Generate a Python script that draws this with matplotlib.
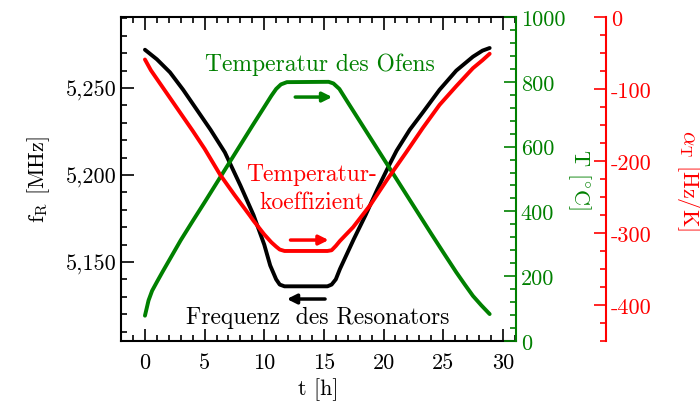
import matplotlib
matplotlib.use("Agg")
import matplotlib.pyplot as plt
from matplotlib.ticker import MultipleLocator, FuncFormatter

# ---------------------------------------------------------------------------
# Data
# ---------------------------------------------------------------------------
t_freq = [0, 1, 2.1, 3.2, 4.3, 5.5, 6.7, 8, 9.1, 10, 10.5, 11, 11.3, 11.7,
          15.3, 15.65, 16, 16.35, 17.5, 18.5, 19.5, 20.5, 21.1, 22.2, 23.3,
          24.7, 26.1, 27.5, 28.3, 28.9]
freq = [5272, 5266.5, 5259, 5249, 5238, 5226, 5213, 5194, 5177, 5160, 5148,
        5140, 5137, 5136, 5136, 5137, 5140, 5146, 5163, 5177, 5192, 5206,
        5214, 5226, 5236, 5249, 5260, 5268, 5271.5, 5273]

t_temp = [0, 0.3, 0.6, 1, 1.5, 2, 3, 4, 5, 6, 7, 8, 9, 10, 10.6, 11, 11.4,
          11.9, 15.4, 15.8, 16.3, 17, 18, 19, 20, 21, 22, 23, 24, 25, 26.1,
          26.8, 27.5, 28.2, 28.9]
temp = [78, 125, 155, 182, 215, 247, 311, 370, 428, 487, 546, 605, 664, 722,
        757, 778, 792, 799, 800, 795, 778, 737, 679, 621, 563, 505, 447, 389,
        331, 274, 212, 175, 139, 110, 83]

t_coef = [0, 0.5, 1, 2, 3, 4, 5, 6.3, 7.5, 8.8, 9.1, 10, 10.6, 11, 11.3,
          11.7, 15.3, 15.65, 16, 16.35, 17.45, 18.9, 20.3, 21.9, 23.3, 24.7,
          26.1, 27.5, 28.3, 28.9]
coef = [-59, -74, -86, -110, -134, -158, -183, -219, -247, -276, -283, -302,
        -313, -319, -323, -325, -325, -324, -318, -311, -292, -261, -226,
        -188, -154, -122, -96, -71, -60, -51]

GREEN = "#008000"
RED = "#ff0000"

plt.rcParams["font.family"] = "serif"
plt.rcParams["font.serif"] = ["cmr10", "DejaVu Serif"]
plt.rcParams["mathtext.fontset"] = "cm"
plt.rcParams["axes.formatter.use_mathtext"] = True
FS = 16
FS_TXT = 17

fig = plt.figure(figsize=(7, 4.1), dpi=100)
ax = fig.add_axes([0.173, 0.166, 0.564, 0.790])
ax2 = ax.twinx()
ax3 = ax.twinx()

# ---------------------------------------------------------------------------
# Curves
# ---------------------------------------------------------------------------
kw = dict(lw=2.8, solid_capstyle="round", solid_joinstyle="round")
ax.plot(t_freq, freq, color="black", **kw)
ax2.plot(t_temp, temp, color=GREEN, **kw)
ax3.plot(t_coef, coef, color=RED, **kw)

# ---------------------------------------------------------------------------
# Axes
# ---------------------------------------------------------------------------
ax.set_xlim(-2, 31.1)
ax.set_ylim(5104.6, 5290.8)
ax2.set_ylim(0, 1000)
ax3.set_ylim(-450, 0)

ax.xaxis.set_major_locator(MultipleLocator(5))
ax.xaxis.set_minor_locator(MultipleLocator(1))
ax.yaxis.set_major_locator(MultipleLocator(50))
ax.yaxis.set_minor_locator(MultipleLocator(10))
ax.yaxis.set_major_formatter(FuncFormatter(lambda v, p: f"{v:,.0f}"))
ax.xaxis.set_major_formatter(FuncFormatter(lambda v, p: f"{v:.0f}"))
ax2.yaxis.set_major_locator(MultipleLocator(200))
ax2.yaxis.set_minor_locator(MultipleLocator(40))
ax2.yaxis.set_major_formatter(FuncFormatter(lambda v, p: f"{v:.0f}"))
ax3.yaxis.set_major_locator(MultipleLocator(100))
ax3.yaxis.set_minor_locator(MultipleLocator(25))
ax3.yaxis.set_major_formatter(FuncFormatter(lambda v, p: f"{v:.0f}"))

ax.tick_params(which="both", direction="in", top=True, right=False, labelsize=FS, width=1.2)
ax.tick_params(which="major", length=9)
ax.tick_params(which="minor", length=4.5)
ax.tick_params(axis="x", pad=8)

for a, c in ((ax2, GREEN), (ax3, RED)):
    for s in ("left", "top", "bottom"):
        a.spines[s].set_visible(False)
    a.spines["right"].set_color(c)
    a.spines["right"].set_linewidth(1.5)
    a.tick_params(which="both", direction="in", colors=c, labelsize=FS, width=1.2)
    a.tick_params(which="major", length=9)
    a.tick_params(which="minor", length=4.5)
ax3.spines["right"].set_position(("axes", 1.228))
for s in ax.spines.values():
    s.set_linewidth(1.5)
ax.spines["right"].set_visible(False)

ax.set_xlabel("t [h]", fontsize=FS)
ax.set_ylabel(r"f$_\mathrm{R}$ [MHz]", fontsize=FS, labelpad=10)
ax2.set_ylabel(r"T [$^{\circ}\mathrm{C}$]", fontsize=FS, color=GREEN, rotation=270, labelpad=20)
ax3.set_ylabel(r"$\alpha_\mathrm{T}$ [Hz/K]", fontsize=FS, color=RED, rotation=270, labelpad=36)

# ---------------------------------------------------------------------------
# Annotations
# ---------------------------------------------------------------------------
ax.text(14.7, 5263.8, "Temperatur des Ofens", color=GREEN, fontsize=FS_TXT,
        ha="center", va="center")
ax.text(14.0, 5192.5, "Temperatur-\nkoeffizient", color=RED, fontsize=FS_TXT,
        ha="center", va="center", linespacing=1.3)
ax.text(14.5, 5118.4, "Frequenz  des Resonators", color="black", fontsize=FS_TXT,
        ha="center", va="center")

arrow = dict(arrowstyle="-|>", lw=2.5, mutation_scale=14, shrinkA=0, shrinkB=0)
ax.annotate("", xy=(15.7, 5244.8), xytext=(12.6, 5244.8),
            arrowprops=dict(arrow, color=GREEN))
ax.annotate("", xy=(15.4, 5162.6), xytext=(12.2, 5162.6),
            arrowprops=dict(arrow, color=RED))
ax.annotate("", xy=(11.9, 5128.7), xytext=(15.1, 5128.7),
            arrowprops=dict(arrow, color="black"))

fig.savefig("out.png", dpi=100)
